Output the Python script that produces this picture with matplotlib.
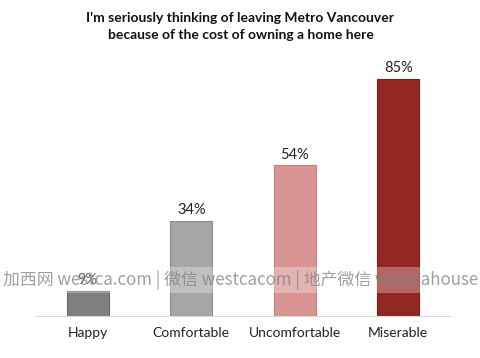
import matplotlib.pyplot as plt

categories = ['Happy', 'Comfortable', 'Uncomfortable', 'Miserable']
values = [9, 34, 54, 85]
colors = ['#7f7f7f', '#a5a5a5', '#d99594', '#922623']
edges = ['#6a6a6a', '#8c8c8c', '#c27f7e', '#7a1e1c']

title = "I'm seriously thinking of leaving Metro Vancouver\nbecause of the cost of owning a home here"
watermark = '加西网 westca.com | 微信 westcacom | 地产微信 westcahouse'

fig = plt.figure(figsize=(4.81, 3.58), dpi=100)
ax = fig.add_axes([36/481, 42/358, 414/481, 256/358])

bars = ax.bar(range(len(values)), values, width=0.41, color=colors, edgecolor=edges, lw=0.8)

for b, v in zip(bars, values):
    ax.text(b.get_x() + b.get_width()/2., v + 1.4, '%d%%' % v,
            ha='center', va='bottom', fontsize=10.5, family='Lato', color='#222222')

ax.set_xlim(-0.5, 3.5)
ax.set_ylim(0, 91.8)
ax.set_yticks([])
ax.set_xticks(range(len(categories)))
ax.set_xticklabels(categories, fontsize=10, family='Lato', color='#222222')
ax.tick_params(axis='x', length=0, pad=8)
for s in ['top', 'right', 'left']:
    ax.spines[s].set_visible(False)
ax.spines['bottom'].set_color('#d9d9d9')

fig.text(0.5, 1 - 26.5/358, title, ha='center', va='center', fontsize=10, fontweight='bold',
         family='Lato', linespacing=1.55, color='#111111')

fig.text(0.5, (358-280)/358, watermark, ha='center', va='center',
         fontsize=12.2, family=['Noto Sans CJK SC', 'DejaVu Sans'], color='#808080', alpha=0.75,
         bbox=dict(facecolor='white', alpha=0.3, edgecolor='none', pad=2))

fig.savefig('out.png', dpi=100)
